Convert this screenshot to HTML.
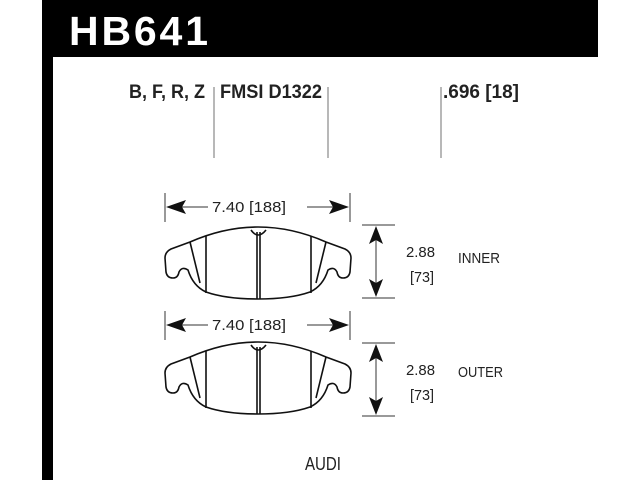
<!DOCTYPE html>
<html><head><style>
body{margin:0;width:640px;height:480px;overflow:hidden;background:#fff;font-family:"Liberation Sans",sans-serif}
</style></head><body>
<svg width="640" height="480" viewBox="0 0 640 480" xmlns="http://www.w3.org/2000/svg">
<rect x="42" y="0" width="556" height="57" fill="#000"/>
<rect x="42" y="0" width="11" height="480" fill="#000"/>
<text x="69" y="45" font-family="Liberation Sans" font-weight="bold" font-size="41" fill="#fff" letter-spacing="3" textLength="142">HB641</text>
<g font-family="Liberation Sans" font-weight="bold" font-size="19" fill="#222">
<text x="129" y="98" textLength="76" lengthAdjust="spacingAndGlyphs">B, F, R, Z</text>
<text x="220" y="98" textLength="102" lengthAdjust="spacingAndGlyphs">FMSI D1322</text>
<text x="443" y="98" textLength="76" lengthAdjust="spacingAndGlyphs">.696 [18]</text>
</g>
<g stroke="#888" stroke-width="1.2">
<line x1="214" y1="87" x2="214" y2="158"/><line x1="328" y1="87" x2="328" y2="158"/><line x1="441" y1="87" x2="441" y2="158"/>
</g>
<defs>
<g id="pad" fill="none" stroke="#111" stroke-width="1.6">
<path d="M190,242 Q258,212 326,242 L345,249 Q351,252 351,258 L350,272 Q349,278 343,278 Q338,278 337,272 Q334,266 328,270 Q323,286 310,292 Q290,299 258,299 Q226,299 206,292 Q193,286 188,270 Q182,266 179,272 Q178,278 173,278 Q167,278 166,272 L165,258 Q165,252 171,249 Z"/>
<path d="M190,242 L200,283 M326,242 L316,283"/>
<line x1="206" y1="236" x2="206" y2="293"/><line x1="311" y1="236" x2="311" y2="293"/>
<line x1="257" y1="232" x2="257" y2="299"/><line x1="260" y1="232" x2="260" y2="299"/>
<path d="M251,230 Q258,240 266,230"/>
</g>
<g id="dims">
<g stroke="#333" stroke-width="1"><line x1="165" y1="193" x2="165" y2="222"/><line x1="350" y1="193" x2="350" y2="222"/>
<line x1="180" y1="207" x2="208" y2="207"/><line x1="307" y1="207" x2="336" y2="207"/>
<line x1="376" y1="238" x2="376" y2="285"/><line x1="362" y1="225" x2="395" y2="225"/><line x1="362" y1="298" x2="395" y2="298"/></g>
<path d="M166,207 L186,200 L182,207 L186,214Z M349,207 L329,200 L333,207 L329,214Z M376,226 L369,244 L376,240 L383,244Z M376,297 L369,279 L376,283 L383,279Z" fill="#111"/>
<g font-family="Liberation Sans" font-size="15" fill="#222"><text x="212" y="212" textLength="74" lengthAdjust="spacingAndGlyphs">7.40 [188]</text><text x="406" y="257" textLength="29" lengthAdjust="spacingAndGlyphs">2.88</text><text x="410" y="282" textLength="24" lengthAdjust="spacingAndGlyphs">[73]</text></g>
</g>
</defs>
<use href="#dims"/><use href="#pad"/>
<use href="#dims" y="118"/><use href="#pad" y="115"/>
<g font-family="Liberation Sans" font-size="15" fill="#222"><text x="458" y="263" textLength="42" lengthAdjust="spacingAndGlyphs">INNER</text><text x="458" y="377" textLength="45" lengthAdjust="spacingAndGlyphs">OUTER</text></g>
<text x="305" y="470" font-family="Liberation Sans" font-size="18" fill="#222" textLength="36" lengthAdjust="spacingAndGlyphs">AUDI</text>
</svg>
</body></html>
